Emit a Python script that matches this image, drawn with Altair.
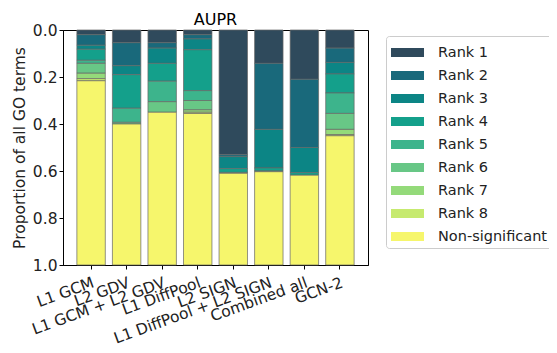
import altair as alt
import pandas as pd

methods = ["L1 GCM", "L2 GDV", "L1 GCM + L2 GDV", "L1 DiffPool", "L2 SIGN",
           "L1 DiffPool + L2 SIGN", "Combined all", "GCN-2"]
ranks = ["Rank 1", "Rank 2", "Rank 3", "Rank 4", "Rank 5", "Rank 6", "Rank 7", "Rank 8", "Non-significant"]
colors = ["#2f4a5c", "#19697b", "#0c8585", "#14a08b", "#3db48c", "#68c786", "#94da7a", "#c6ea6f", "#f6f66c"]

rank1 = [0.020, 0.054, 0.054, 0.020, 0.531, 0.142, 0.210, 0.077]
rank2 = [0.045, 0.098, 0.023, 0.018, 0.008, 0.281, 0.290, 0.061]
rank3 = [0.017, 0.038, 0.065, 0.046, 0.051, 0.164, 0.107, 0.049]
rank4 = [0.047, 0.143, 0.076, 0.174, 0.016, 0.013, 0.011, 0.081]
rank5 = [0.013, 0.060, 0.087, 0.042, 0.004, 0.003, 0.000, 0.087]
rank6 = [0.042, 0.007, 0.045, 0.040, 0.000, 0.000, 0.000, 0.068]
rank7 = [0.023, 0.000, 0.000, 0.010, 0.000, 0.000, 0.000, 0.022]
rank8 = [0.009, 0.000, 0.000, 0.005, 0.000, 0.000, 0.000, 0.005]
nonsig = [0.784, 0.600, 0.650, 0.645, 0.390, 0.397, 0.382, 0.550]

series = [rank1, rank2, rank3, rank4, rank5, rank6, rank7, rank8, nonsig]
rows = []
for ri, (rname, vals) in enumerate(zip(ranks, series)):
    for m, v in zip(methods, vals):
        if v > 0:
            rows.append({"method": m, "rank": rname, "order": ri, "value": v})
df = pd.DataFrame(rows)

legend_path = "M-1,-0.39H1.87V0.39H-1Z"
FS = 15.5
LFS = 14.5

chart = alt.Chart(df).mark_bar(stroke="#666666", strokeWidth=0.7).encode(
    x=alt.X("method:N", sort=methods,
            scale=alt.Scale(paddingInner=0.2, paddingOuter=0.39),
            axis=alt.Axis(title=None, labelAngle=-20, labelAlign="right", labelBaseline="top",
                          labelFontSize=FS, labelColor="#222222", labelPadding=6,
                          tickSize=4, tickColor="#000000", domainColor="#000000")),
    y=alt.Y("value:Q", stack="zero",
            scale=alt.Scale(domain=[0, 1], reverse=True, nice=False),
            axis=alt.Axis(title="Proportion of all GO terms", values=[0, 0.2, 0.4, 0.6, 0.8, 1.0],
                          format=".1f", grid=False, labelFontSize=FS, titleFontSize=FS,
                          titleFontWeight="normal", labelColor="#222222", titleColor="#222222",
                          tickSize=4, tickColor="#000000", domainColor="#000000", titlePadding=5)),
    color=alt.Color("rank:N", sort=ranks,
                    scale=alt.Scale(domain=ranks, range=colors),
                    legend=alt.Legend(title=None, orient="none", legendX=323, legendY=6,
                                      labelFontSize=LFS, labelColor="#222222",
                                      symbolType=legend_path, symbolSize=529,
                                      symbolStrokeWidth=0, symbolOpacity=1,
                                      labelOffset=24, rowPadding=5, padding=5,
                                      strokeColor="#cccccc", cornerRadius=3,
                                      fillColor="#ffffff")),
    order=alt.Order("order:Q", sort="ascending"),
).properties(
    width=305, height=235,
    title=alt.TitleParams("AUPR", fontSize=16, fontWeight="normal", anchor="middle",
                          offset=10, dy=15, frame="group", color="#000000"),
    autosize=alt.AutoSizeParams(type="none"),
    padding={"left": 55, "top": 22, "right": 181, "bottom": 80},
).configure(font="DejaVu Sans").configure_view(stroke="#000000", strokeWidth=1)

chart.save("out.html", embed_options={"renderer": "svg", "actions": False})
